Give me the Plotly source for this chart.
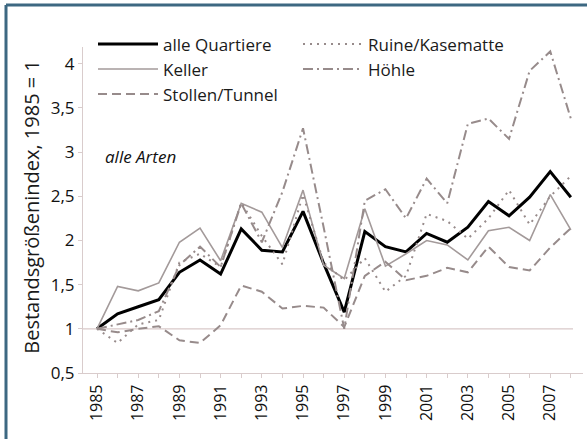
import plotly.graph_objects as go

years = list(range(1985, 2009))
alle_quartiere = [1.0, 1.17, 1.25, 1.33, 1.64, 1.78, 1.62, 2.13, 1.89, 1.87, 2.33, 1.74,
                  1.19, 2.10, 1.93, 1.87, 2.08, 1.98, 2.15, 2.44, 2.28, 2.49, 2.78, 2.49]
keller = [1.0, 1.48, 1.43, 1.52, 1.98, 2.14, 1.77, 2.42, 2.32, 1.92, 2.57, 1.72,
          1.57, 2.36, 1.71, 1.85, 2.00, 1.95, 1.78, 2.11, 2.15, 2.00, 2.52, 2.12]
stollen_tunnel = [1.0, 0.96, 1.00, 1.03, 0.87, 0.84, 1.04, 1.49, 1.42, 1.23, 1.26, 1.24,
                  1.02, 1.60, 1.76, 1.55, 1.60, 1.69, 1.64, 1.93, 1.70, 1.66, 1.92, 2.14]
ruine_kasematte = [1.0, 0.84, 1.05, 1.10, 1.75, 1.85, 1.70, 2.43, 2.05, 1.73, 2.52, 1.75,
                   1.55, 1.80, 1.42, 1.60, 2.30, 2.22, 2.02, 2.25, 2.57, 2.18, 2.50, 2.73]
hoehle = [1.0, 1.05, 1.10, 1.20, 1.72, 1.93, 1.70, 2.42, 1.98, 2.55, 3.27, 2.15,
          1.00, 2.45, 2.58, 2.25, 2.70, 2.42, 3.32, 3.38, 3.15, 3.92, 4.14, 3.38]
x_tick_years = list(range(1985, 2009, 2))

GRAY = "#978b8b"
fig = go.Figure()
fig.add_trace(go.Scatter(x=years, y=alle_quartiere, name="alle Quartiere", mode="lines",
                         legend="legend", line=dict(color="#000000", width=3)))
fig.add_trace(go.Scatter(x=years, y=keller, name="Keller", mode="lines",
                         legend="legend", line=dict(color="#a39a9a", width=1.6)))
fig.add_trace(go.Scatter(x=years, y=stollen_tunnel, name="Stollen/Tunnel", mode="lines",
                         legend="legend", line=dict(color=GRAY, width=2, dash="9px,5px")))
fig.add_trace(go.Scatter(x=years, y=ruine_kasematte, name="Ruine/Kasematte", mode="lines",
                         legend="legend2", line=dict(color=GRAY, width=2, dash="2px,5px")))
fig.add_trace(go.Scatter(x=years, y=hoehle, name="Höhle", mode="lines",
                         legend="legend2", line=dict(color=GRAY, width=2, dash="10px,4px,2px,4px")))

fig.add_hline(y=1, x0=0, x1=0.98, line=dict(color="#d9c9c9", width=1.2), layer="below")

fig.add_annotation(text="<i>alle Arten</i>", xref="paper", yref="y", x=0.04, y=2.95,
                   xanchor="left", yanchor="middle", showarrow=False,
                   font=dict(family="Open Sans", size=17, color="#111111"))

# y-axis title
fig.add_annotation(text="Bestandsgrößenindex, 1985 = 1", xref="paper", yref="paper",
                   x=-0.102, y=0.51, xanchor="center", yanchor="middle", textangle=-90,
                   showarrow=False, font=dict(family="Open Sans", size=20, color="#1a1a1a"))

# frame of the figure
fig.add_shape(type="line", xref="paper", yref="paper", x0=-0.154, x1=1.1, y0=1.129, y1=1.129,
              line=dict(color="#3d6882", width=3))
fig.add_shape(type="line", xref="paper", yref="paper", x0=-0.154, x1=-0.154, y0=-0.3, y1=1.129,
              line=dict(color="#3d6882", width=3))

legend_common = dict(orientation="v", xref="paper", yref="container",
                     xanchor="left", yanchor="top", itemwidth=60,
                     bgcolor="rgba(0,0,0,0)", font=dict(size=17, color="#1a1a1a"),
                     tracegroupgap=0, itemclick=False, itemdoubleclick=False)

fig.update_layout(
    width=587, height=439,
    margin=dict(l=83, r=4, t=47, b=66, autoexpand=False),
    paper_bgcolor="white", plot_bgcolor="white",
    separators=", ",
    font=dict(family="Open Sans", size=16, color="#1a1a1a"),
    showlegend=True,
    legend=dict(x=0.02, y=0.94, **legend_common),
    legend2=dict(x=0.43, y=0.94, **legend_common),
    xaxis=dict(range=[1984.32, 2008.59], tickvals=x_tick_years, tickangle=-90,
               showgrid=False, zeroline=False, showline=True, linecolor="#d9cccc",
               linewidth=1.2, ticks="outside", ticklen=4, tickcolor="#d9cccc",
               automargin=False,
               minor=dict(dtick=1, ticks="outside", ticklen=4, tickcolor="#d9cccc"),
               tickfont=dict(size=16, color="#111111")),
    yaxis=dict(range=[0.5, 4.19], dtick=0.5, tick0=0.5, automargin=False,
               showgrid=False, zeroline=False, showline=True, linecolor="#d9cccc",
               linewidth=1.2, ticks="outside", ticklen=4, tickcolor="#d9cccc",
               tickfont=dict(size=17, color="#111111")),
)

fig.write_html("out.html", config={"displayModeBar": False},
               post_script="document.body.style.margin='0';")
